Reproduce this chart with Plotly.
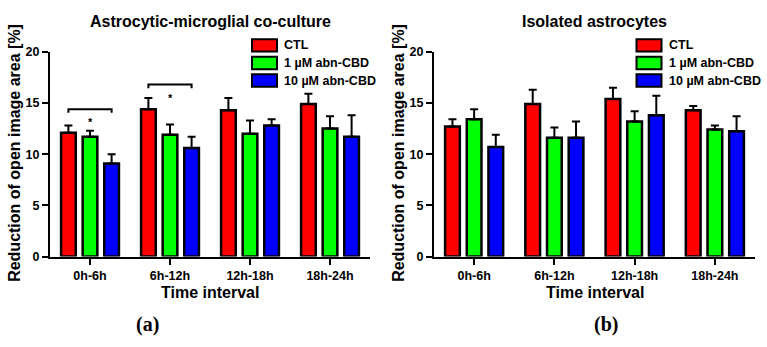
import plotly.graph_objects as go

W, H = 767, 347

# Categories and series
intervals = ["0h-6h", "6h-12h", "12h-18h", "18h-24h"]
series_names = ["CTL", "1 µM abn-CBD", "10 µM abn-CBD"]
series_colors = ["#FF0000", "#00FF00", "#0000FF"]

# Panel (a): astrocytic-microglial co-culture (mean, SEM)
coculture_ctl = [12.1, 14.4, 14.3, 14.9]
coculture_ctl_err = [0.7, 1.1, 1.2, 1.0]
coculture_1um = [11.7, 11.9, 12.0, 12.5]
coculture_1um_err = [0.6, 1.0, 1.3, 1.2]
coculture_10um = [9.1, 10.6, 12.8, 11.7]
coculture_10um_err = [0.9, 1.1, 0.6, 2.1]

# Panel (b): isolated astrocytes (mean, SEM)
isolated_ctl = [12.7, 14.9, 15.4, 14.3]
isolated_ctl_err = [0.7, 1.4, 1.1, 0.4]
isolated_1um = [13.4, 11.6, 13.2, 12.4]
isolated_1um_err = [1.0, 1.0, 1.0, 0.4]
isolated_10um = [10.7, 11.6, 13.8, 12.25]
isolated_10um_err = [1.2, 1.6, 1.9, 1.45]

# Significance brackets for panel (a): (interval index, bracket height)
sig_brackets = [(0, 14.4), (1, 16.8)]
sig_label = "*"

panels = [
    ("Astrocytic-microglial co-culture", "(a)",
     [coculture_ctl, coculture_1um, coculture_10um],
     [coculture_ctl_err, coculture_1um_err, coculture_10um_err]),
    ("Isolated astrocytes", "(b)",
     [isolated_ctl, isolated_1um, isolated_10um],
     [isolated_ctl_err, isolated_1um_err, isolated_10um_err]),
]

FONT = "Liberation Sans"
BARGAP = 0.19
SLOT = (1 - BARGAP) / 3  # width of each bar slot in category units

def px(x):
    return x / W

def py(y):
    return 1 - y / H

x_domains = [[px(50), px(370)], [px(434), px(755)]]
y_domain = [py(260), py(46.7)]
legend_x = [252, 636.5]

fig = go.Figure()
annotations = []
shapes = []

for p, (title, tag, means, errs) in enumerate(panels):
    xa = "x" if p == 0 else "x2"
    ya = "y" if p == 0 else "y2"
    for s in range(3):
        fig.add_trace(go.Bar(
            x=list(range(len(intervals))), y=means[s], name=series_names[s],
            xaxis=xa, yaxis=ya, offsetgroup=str(s), showlegend=False,
            marker=dict(color=series_colors[s], line=dict(color="black", width=2.5)),
            error_y=dict(type="data", symmetric=False, array=errs[s],
                         arrayminus=[0] * len(intervals),
                         color="black", thickness=2, width=4),
        ))

    x0, x1 = x_domains[p]
    cx = (x0 + x1) / 2
    annotations.append(dict(text=f"<b>{title}</b>", x=cx, y=py(15), xref="paper", yref="paper",
                            showarrow=False, xanchor="center", yanchor="middle",
                            font=dict(family=FONT, size=16, color="black")))
    annotations.append(dict(text="<b>Time interval</b>", x=cx, y=py(297), xref="paper", yref="paper",
                            showarrow=False, xanchor="center", yanchor="middle",
                            font=dict(family=FONT, size=16, color="black")))
    annotations.append(dict(text="<b>Reduction of open image area [%]</b>",
                            x=px(15 + 384 * p), y=py(152), xref="paper", yref="paper",
                            textangle=-90, showarrow=False, xanchor="center", yanchor="middle",
                            font=dict(family=FONT, size=16, color="black")))
    tag_x = 147 if p == 0 else 606
    annotations.append(dict(text=f"<b>{tag}</b>", x=px(tag_x), y=py(331), xref="paper", yref="paper",
                            showarrow=False, xanchor="center", yanchor="middle",
                            font=dict(family="Liberation Serif", size=20, color="black")))

    # Legend drawn as swatches + labels
    rows = [40, 58.3, 76.7]
    lx = legend_x[p]
    for s in range(3):
        shapes.append(dict(type="rect", xref="paper", yref="paper",
                           x0=px(lx), x1=px(lx + 25), y0=py(rows[s] + 6.5), y1=py(rows[s] - 6.5),
                           fillcolor=series_colors[s], line=dict(color="black", width=2)))
        annotations.append(dict(text=f"<b>{series_names[s]}</b>", x=px(lx + 30), y=py(rows[s]),
                                xref="paper", yref="paper", showarrow=False,
                                xanchor="left", yanchor="middle",
                                font=dict(family=FONT, size=12.5, color="black")))

# Significance brackets (panel a): from CTL bar centre to 10 µM bar centre
for idx, h in sig_brackets:
    xl, xr = idx - SLOT, idx + SLOT
    fig.add_trace(go.Scatter(
        x=[xl, xl, xr, xr], y=[h - 0.35, h, h, h - 0.35], mode="lines",
        line=dict(color="black", width=2), xaxis="x", yaxis="y",
        showlegend=False, hoverinfo="skip"))
    annotations.append(dict(text=f"<b>{sig_label}</b>", x=idx, y=h - 0.5, xref="x", yref="y",
                            showarrow=False, xanchor="center", yanchor="top",
                            font=dict(family=FONT, size=11, color="black")))

axis_common = dict(showline=True, linecolor="black", linewidth=2, showgrid=False,
                   zeroline=False, ticks="outside", tickcolor="black", tickwidth=2,
                   tickfont=dict(family=FONT, size=12.5, color="black", weight="bold"))

layout = dict(
    width=W, height=H, margin=dict(l=0, r=0, t=0, b=0),
    paper_bgcolor="white", plot_bgcolor="white",
    barmode="group", bargap=BARGAP, bargroupgap=0.32,
    showlegend=False, annotations=annotations, shapes=shapes,
)
for p in range(2):
    sfx = "" if p == 0 else "2"
    layout["xaxis" + sfx] = dict(axis_common, domain=x_domains[p], range=[-0.5, 3.5],
                                 tickvals=list(range(len(intervals))), ticktext=intervals,
                                 ticklen=6, anchor="y" + sfx)
    layout["yaxis" + sfx] = dict(axis_common, domain=y_domain, range=[0, 20],
                                 tickvals=[0, 5, 10, 15, 20], ticklen=6, anchor="x" + sfx)

fig.update_layout(**layout)
fig.write_html("out.html")
